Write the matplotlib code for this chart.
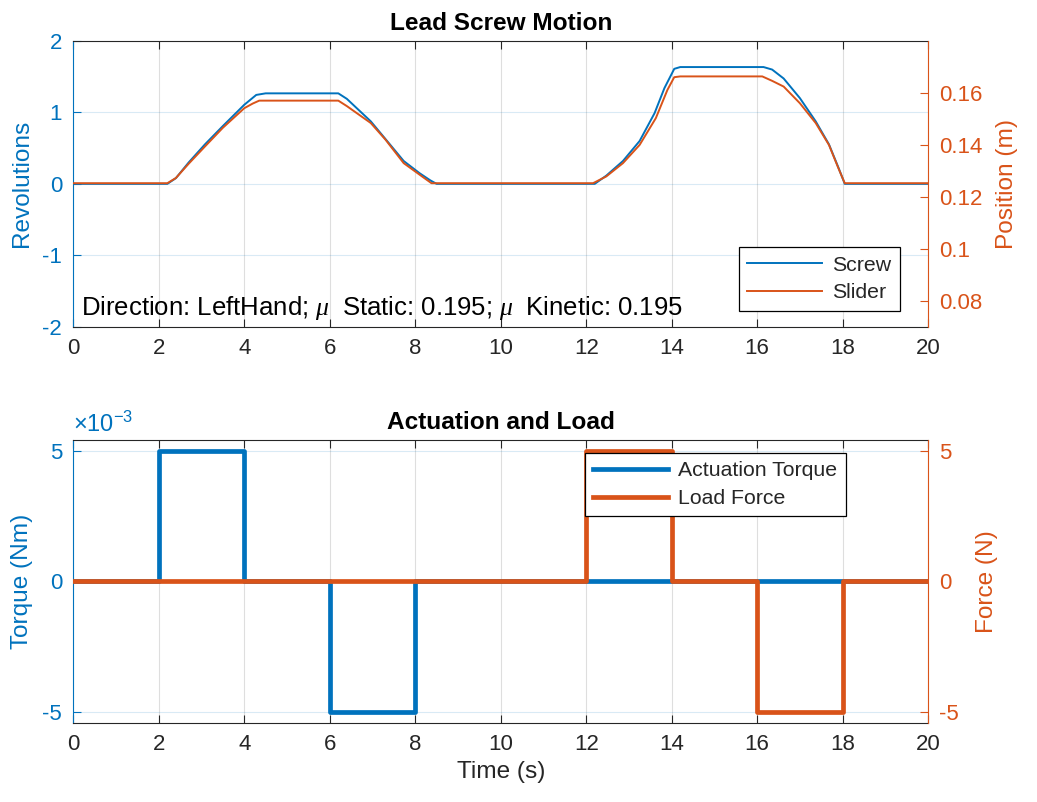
import numpy as np
import matplotlib
matplotlib.use("Agg")
import matplotlib.pyplot as plt
from matplotlib.ticker import FuncFormatter

plt.rcParams['font.family'] = ['Liberation Sans', 'DejaVu Sans']
plt.rcParams['mathtext.fontset'] = 'custom'
plt.rcParams['mathtext.rm'] = 'Liberation Sans'
plt.rcParams['mathtext.it'] = 'Liberation Serif:italic'
plt.rcParams['mathtext.bf'] = 'Liberation Sans:bold'
plt.rcParams['axes.unicode_minus'] = False

# Lead screw motion
screw_t = [0, 2.2, 2.4, 2.7, 3.08, 3.5, 4.0, 4.28, 4.5, 6.2, 6.4, 6.96, 7.3, 7.73, 8.1, 8.35, 8.5,
           12.2, 12.47, 12.86, 13.25, 13.6, 13.83, 14.06, 14.2, 16.15, 16.35, 16.62, 17.0,
           17.37, 17.68, 17.9, 18.05, 20]
screw_rev = [0, 0, 0.08, 0.3, 0.553, 0.81, 1.107, 1.245, 1.267, 1.267, 1.19, 0.875, 0.63, 0.32,
             0.15, 0.05, 0,
             0, 0.115, 0.32, 0.6, 0.99, 1.34, 1.61, 1.635, 1.635, 1.6, 1.475, 1.2,
             0.875, 0.553, 0.23, 0, 0]

slider_t = [0, 2.2, 2.4, 2.7, 3.08, 3.5, 4.0, 4.2, 4.35, 6.2, 6.4, 6.96, 7.3, 7.73, 8.1, 8.38,
            12.16, 12.47, 12.86, 13.25, 13.63, 13.9, 14.06, 14.2, 16.12, 16.35, 16.62, 17.0,
            17.37, 17.68, 17.9, 18.05, 20]
slider_pos = [0.1252, 0.1252, 0.1272, 0.1327, 0.1393, 0.1465, 0.1540, 0.1558, 0.1569, 0.1569,
              0.1548, 0.1483, 0.1420, 0.1329, 0.1285, 0.1252,
              0.1252, 0.1278, 0.1329, 0.1399, 0.1502, 0.1610, 0.1659, 0.1662, 0.1662, 0.1645,
              0.1623, 0.1559, 0.1483, 0.1399, 0.1310, 0.1252, 0.1252]

# Actuation and load (step signals)
torque_t = [0, 2, 4, 6, 8, 20]
torque_nm = [0, 5e-3, 0, -5e-3, 0, 0]
force_t = [0, 12, 14, 16, 18, 20]
force_n = [0, 5, 0, -5, 0, 0]

blue = '#0072BD'
orange = '#D95319'
dark = '#262626'
tick_fs = 16
label_fs = 17.6
leg_fs = 15.3

fig = plt.figure(figsize=(10.37, 8.02), dpi=100)
ax1 = fig.add_axes([0.0707, 0.5926, 0.8243, 0.3563])
ax3 = fig.add_axes([0.0707, 0.0985, 0.8243, 0.3529])


def style(ax, ax2):
    ax.set_xlim(0, 20)
    ax.set_xticks(np.arange(0, 21, 2))
    ax.tick_params(axis='x', direction='in', top=True, length=6, width=0.8,
                   colors=dark, labelsize=tick_fs, pad=8)
    ax.tick_params(axis='y', direction='in', length=6, width=0.8,
                   colors=blue, labelsize=tick_fs, pad=8)
    ax2.tick_params(axis='y', direction='in', length=6, width=0.8,
                    colors=orange, labelsize=tick_fs, pad=8)
    for s in ('top', 'bottom'):
        ax.spines[s].set_color(dark)
        ax2.spines[s].set_visible(False)
    ax.spines['left'].set_color(blue)
    ax.spines['right'].set_visible(False)
    ax2.spines['left'].set_visible(False)
    ax2.spines['right'].set_color(orange)
    ax.xaxis.grid(True, color=dark, alpha=0.15, lw=0.8)
    ax.yaxis.grid(True, color=blue, alpha=0.15, lw=0.8)
    ax.set_axisbelow(True)


def add_legend(ax, handles, loc, anchor):
    leg = ax.legend(handles=handles, loc=loc, bbox_to_anchor=anchor, borderaxespad=0,
                    fontsize=leg_fs, handlelength=3.5, fancybox=False, framealpha=1,
                    edgecolor='black', borderpad=0.4, labelspacing=0.4, handletextpad=0.5)
    leg.get_frame().set_linewidth(0.9)
    for t in leg.get_texts():
        t.set_color(dark)
    return leg


# --- top panel
ax2 = ax1.twinx()
style(ax1, ax2)
l1, = ax1.plot(screw_t, screw_rev, color=blue, lw=1.4, label='Screw')
l2, = ax2.plot(slider_t, slider_pos, color=orange, lw=1.4, label='Slider')
ax1.set_ylim(-2, 2)
ax1.set_yticks([-2, -1, 0, 1, 2])
ax2.set_ylim(0.0701, 0.1798)
ax2.set_yticks([0.08, 0.1, 0.12, 0.14, 0.16])
ax2.yaxis.set_major_formatter(FuncFormatter(lambda v, p: '%g' % v))
ax1.set_ylabel('Revolutions', color=blue, fontsize=label_fs, labelpad=7)
ax2.set_ylabel('Position (m)', color=orange, fontsize=label_fs, labelpad=10)
ax1.set_title('Lead Screw Motion', fontsize=label_fs, fontweight='bold', pad=8, color='black')
ax2.text(0.009, 0.042, r'Direction: LeftHand; $\mu\ $ Static: 0.195; $\mu\ $ Kinetic: 0.195',
         transform=ax1.transAxes, fontsize=18.5, color='black', va='baseline', ha='left')
add_legend(ax2, [l1, l2], 'lower right', (0.967, 0.056))

# --- bottom panel
ax4 = ax3.twinx()
style(ax3, ax4)
l3, = ax3.plot(torque_t, torque_nm, color=blue, lw=3.4, drawstyle='steps-post',
               label='Actuation Torque')
l4, = ax4.plot(force_t, force_n, color=orange, lw=3.4, drawstyle='steps-post',
               label='Load Force')
ax3.set_ylim(-5.42e-3, 5.42e-3)
ax3.set_yticks([-5e-3, 0, 5e-3])
ax3.set_yticklabels(['-5', '0', '5'])
ax3.text(0.0, 1.01, r'$\mathrm{\times 10^{-3}}$', transform=ax3.transAxes, color=blue,
         fontsize=17, ha='left', va='bottom')
ax4.set_ylim(-5.42, 5.42)
ax4.set_yticks([-5, 0, 5])
ax3.set_ylabel('Torque (Nm)', color=blue, fontsize=label_fs, labelpad=7)
ax4.set_ylabel('Force (N)', color=orange, fontsize=label_fs, labelpad=12)
ax3.set_xlabel('Time (s)', color=dark, fontsize=label_fs, labelpad=4)
ax3.set_title('Actuation and Load', fontsize=label_fs, fontweight='bold', pad=8, color='black')
add_legend(ax4, [l3, l4], 'upper right', (0.904, 0.954))

fig.savefig('out.png', dpi=100)
